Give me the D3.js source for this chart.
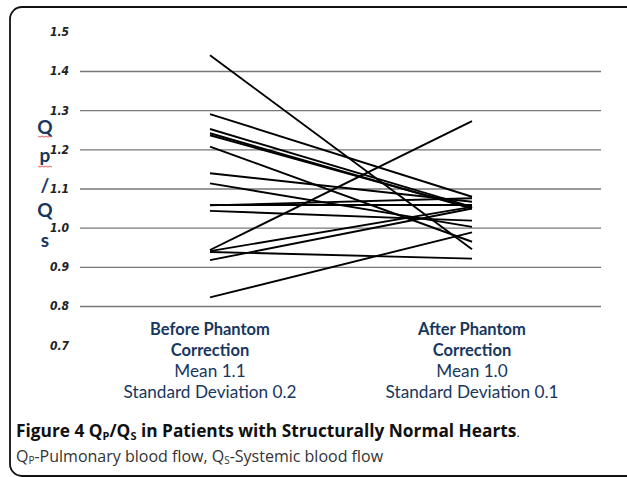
<!DOCTYPE html>
<html>
<head>
<meta charset="utf-8">
<script src="https://cdn.jsdelivr.net/npm/d3@7"></script>
<style>
    body { margin: 0; background: #fff; }
    svg { display: block; }
    .tick-lab text {
        font-family: "DejaVu Sans Condensed", "Liberation Sans Narrow", sans-serif;
        font-style: italic;
        font-weight: bold;
        font-size: 12px;
        fill: #222;
    }
    .cat { font-family: Lato, "Open Sans", sans-serif; fill: #17375e; font-size: 16.5px; }
    .cat.reg { font-size: 17.2px; }
    .cap { font-family: "Open Sans", "Noto Sans", sans-serif; }
</style>
</head>
<body>
<svg id="chart" width="627" height="477"></svg>
<script>
    // data
    const groups = ["Before Phantom Correction", "After Phantom Correction"];
    const before = [1.44, 1.29, 1.252, 1.241, 1.236, 1.207, 1.139, 1.113, 1.058, 1.057, 1.043, 0.943, 0.940, 0.938, 0.917, 0.822];
    const after  = [0.945, 1.079, 1.053, 1.049, 1.050, 0.964, 1.066, 1.002, 1.058, 1.075, 1.018, 1.272, 1.053, 0.921, 1.049, 0.988];
    const gridTicks = [0.8, 0.9, 1.0, 1.1, 1.2, 1.3, 1.4];
    const labelTicks = [0.7, 0.8, 0.9, 1.0, 1.1, 1.2, 1.3, 1.4, 1.5];
    const catLines = [
        ["Before Phantom", "Correction", "Mean 1.1", "Standard Deviation 0.2"],
        ["After Phantom", "Correction", "Mean 1.0", "Standard Deviation 0.1"]
    ];

    const svg = d3.select("#chart");

    // frame
    svg.append("rect")
        .attr("x", 10).attr("y", 7)
        .attr("width", 640).attr("height", 469)
        .attr("rx", 12)
        .attr("fill", "none")
        .attr("stroke", "#111")
        .attr("stroke-width", 1.8);

    const y = d3.scaleLinear().domain([0.8, 1.4]).range([306, 71]);
    const x = d3.scalePoint().domain(groups).range([210, 472]);

    // gridlines
    const grid = svg.append("g")
        .attr("transform", "translate(601,0)")
        .call(d3.axisLeft(y).tickValues(gridTicks).tickSize(521).tickFormat(""));
    grid.select(".domain").remove();
    grid.selectAll("line").attr("stroke", "#777").attr("stroke-width", 1.3);

    // tick labels
    const lab = svg.append("g")
        .attr("class", "tick-lab")
        .attr("transform", "translate(69,0)")
        .call(d3.axisLeft(y).tickValues(labelTicks).tickSize(0).tickPadding(0).tickFormat(d3.format(".1f")));
    lab.select(".domain").remove();

    // data lines
    const pairs = before.map((b, i) => [b, after[i]]);
    svg.append("g").selectAll("line")
        .data(pairs)
        .join("line")
        .attr("x1", x(groups[0]))
        .attr("x2", x(groups[1]))
        .attr("y1", d => y(d[0]))
        .attr("y2", d => y(d[1]))
        .attr("stroke", "#000")
        .attr("stroke-width", 1.9);

    // y title, stacked letters
    const yt = [["Q", 134], ["p", 162], ["/", 192], ["Q", 217], ["s", 247]];
    svg.append("g").selectAll("text")
        .data(yt)
        .join("text")
        .attr("x", 45).attr("y", d => d[1])
        .attr("text-anchor", "middle")
        .attr("font-family", "Lato, 'Open Sans', sans-serif")
        .attr("font-weight", "bold")
        .attr("font-size", 19)
        .attr("fill", "#17375e")
        .text(d => d[0]);
    // spellcheck squiggles under Q and p
    [136, 166].forEach(yy => {
        svg.append("path")
            .attr("d", d3.range(0, 8).map((k, i) => (i ? "L" : "M") + (38 + k * 2) + "," + (yy + (k % 2 ? 1.2 : 0))).join(""))
            .attr("fill", "none")
            .attr("stroke", "#d33")
            .attr("stroke-width", 0.8);
    });

    // category labels
    catLines.forEach((lines, gi) => {
        const cx = x(groups[gi]);
        lines.forEach((t, li) => {
            svg.append("text")
                .attr("class", li < 2 ? "cat" : "cat reg")
                .attr("x", cx)
                .attr("y", 335 + li * 21)
                .attr("text-anchor", "middle")
                .attr("font-weight", li < 2 ? "bold" : "normal")
                .text(t);
        });
    });

    // caption
    const c1 = svg.append("text").attr("class", "cap")
        .attr("x", 16).attr("y", 437)
        .attr("font-size", 17.3).attr("font-weight", "bold").attr("fill", "#111");
    c1.append("tspan").text("Figure 4 Q");
    c1.append("tspan").attr("font-size", 11).attr("dy", 3).text("P");
    c1.append("tspan").attr("dy", -3).text("/Q");
    c1.append("tspan").attr("font-size", 11).attr("dy", 3).text("S");
    c1.append("tspan").attr("dy", -3).text(" in Patients with Structurally Normal Hearts");
    c1.append("tspan").attr("font-weight", "normal").attr("font-size", 12).text(".");

    const c2 = svg.append("text").attr("class", "cap")
        .attr("x", 16).attr("y", 462)
        .attr("font-size", 16).attr("fill", "#333");
    c2.append("tspan").text("Q");
    c2.append("tspan").attr("font-size", 10).attr("dy", 2).text("P");
    c2.append("tspan").attr("dy", -2).text("-Pulmonary blood flow, Q");
    c2.append("tspan").attr("font-size", 10).attr("dy", 2).text("S");
    c2.append("tspan").attr("dy", -2).text("-Systemic blood flow");
</script>
</body>
</html>
